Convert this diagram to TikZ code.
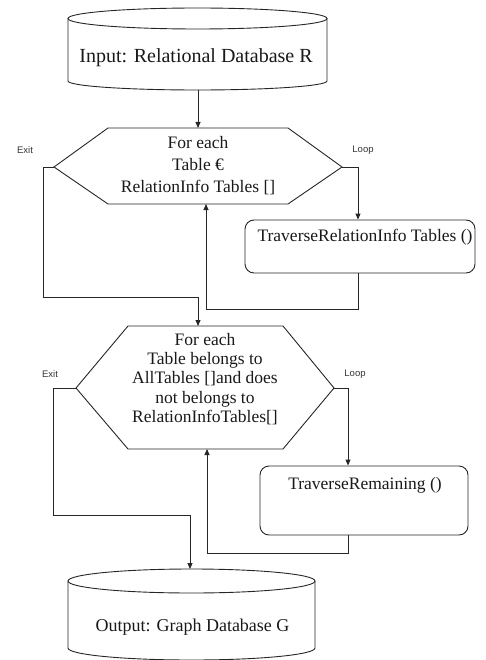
\documentclass[tikz,border=0pt]{standalone}
\usepackage{fontspec}
\setmainfont{Liberation Serif}
\newfontfamily\lblfont{Liberation Sans}
\usetikzlibrary{arrows.meta,calc}
\begin{document}
\begin{tikzpicture}[x=1pt,y=-1pt,
  line/.style={draw=black!85, line width=0.9pt, line join=miter},
  arr/.style={line, -{Triangle[length=6pt,width=5pt]}},
  procbox/.style={line, rounded corners=9pt, fill=white},
  txt/.style={text=black!90, inner sep=0pt, align=center},
  lbl/.style={font=\lblfont\fontsize{9.5}{11}\selectfont, text=black!80, inner sep=0pt}
]
\useasboundingbox (0,0) rectangle (486,660);

% ---------- input cylinder
\coordinate (inL) at (68,18.5);
\coordinate (inR) at (327,18.5);
\coordinate (inS) at (198,90);
\draw[line] (197.5,18.5) ellipse[x radius=129.5pt, y radius=10.5pt];
\draw[line] (inL) -- (68,81) arc[start angle=180, end angle=360, x radius=129.5pt, y radius=9pt] -- (inR);
\node[txt, font=\fontsize{20}{24}\selectfont] (inT) at (196,58) {Input: Relational Database R};

% ---------- hexagon 1
\coordinate (h1W) at (54,167);
\coordinate (h1E) at (342,167);
\coordinate (h1N) at (198,128);
\coordinate (h1S) at (206,204);
\draw[line] (h1W) -- (108,128) -- (288,128) -- (h1E) -- (288,204) -- (108,204) -- cycle;
\node[txt, font=\fontsize{17.5}{22}\selectfont] (h1T) at (198,166) {For each\\Table €\\RelationInfo Tables []};

% ---------- box 1
\node[procbox, minimum width=230pt, minimum height=53pt] (b1) at (360,246.5) {};
\node[txt, font=\fontsize{17.5}{21}\selectfont] (b1T) at (365,237) {TraverseRelationInfo Tables ()};

% ---------- hexagon 2
\coordinate (h2W) at (76,388);
\coordinate (h2E) at (334,388);
\coordinate (h2N) at (198,326);
\coordinate (h2S) at (207,449);
\draw[line] (h2W) -- (128,326) -- (283,326) -- (h2E) -- (283,449) -- (128,449) -- cycle;
\node[txt, font=\fontsize{17.5}{19.3}\selectfont] (h2T) at (205,379) {For each\\Table belongs to\\AllTables []and does\\not belongs to\\RelationInfoTables[]};

% ---------- box 2
\node[procbox, minimum width=208pt, minimum height=69pt] (b2) at (364,500.5) {};
\node[txt, font=\fontsize{17.5}{21}\selectfont] (b2T) at (365,485) {TraverseRemaining ()};

% ---------- output cylinder
\coordinate (outL) at (68,581);
\coordinate (outR) at (315,581);
\coordinate (outN) at (190,569);
\draw[line] (191.5,581) ellipse[x radius=123.5pt, y radius=12pt];
\draw[line] (outL) -- (68,648) arc[start angle=180, end angle=360, x radius=123.5pt, y radius=12pt] -- (outR);
\node[txt, font=\fontsize{18}{22}\selectfont] (outT) at (192.5,627) {Output: Graph Database G};

% ---------- labels
\node[lbl] (ex1) at (25,150) {Exit};
\node[lbl] (lp1) at (363,150) {Loop};
\node[lbl] (ex2) at (50,374) {Exit};
\node[lbl] (lp2) at (355,374) {Loop};

% ---------- connectors
\draw[arr] (inS) -- (h1N);
\coordinate (l1) at (358,167);
\draw[arr] (h1E) -- (l1) -- (l1 |- b1.north);
\coordinate (r1a) at (358,309);
\draw[arr] (r1a |- b1.south) -- (r1a) -- (h1S |- r1a) -- (h1S);
\coordinate (e1a) at (43,167);
\coordinate (e1b) at (43,297);
\draw[arr] (h1W) -- (e1a) -- (e1b) -- (h2N |- e1b) -- (h2N);
\coordinate (l2) at (348,388);
\draw[arr] (h2E) -- (l2) -- (l2 |- b2.north);
\coordinate (r2a) at (348,553);
\draw[arr] (r2a |- b2.south) -- (r2a) -- (h2S |- r2a) -- (h2S);
\coordinate (e2a) at (53,388);
\coordinate (e2b) at (53,515);
\draw[arr] (h2W) -- (e2a) -- (e2b) -- (outN |- e2b) -- (outN);
\end{tikzpicture}
\end{document}
